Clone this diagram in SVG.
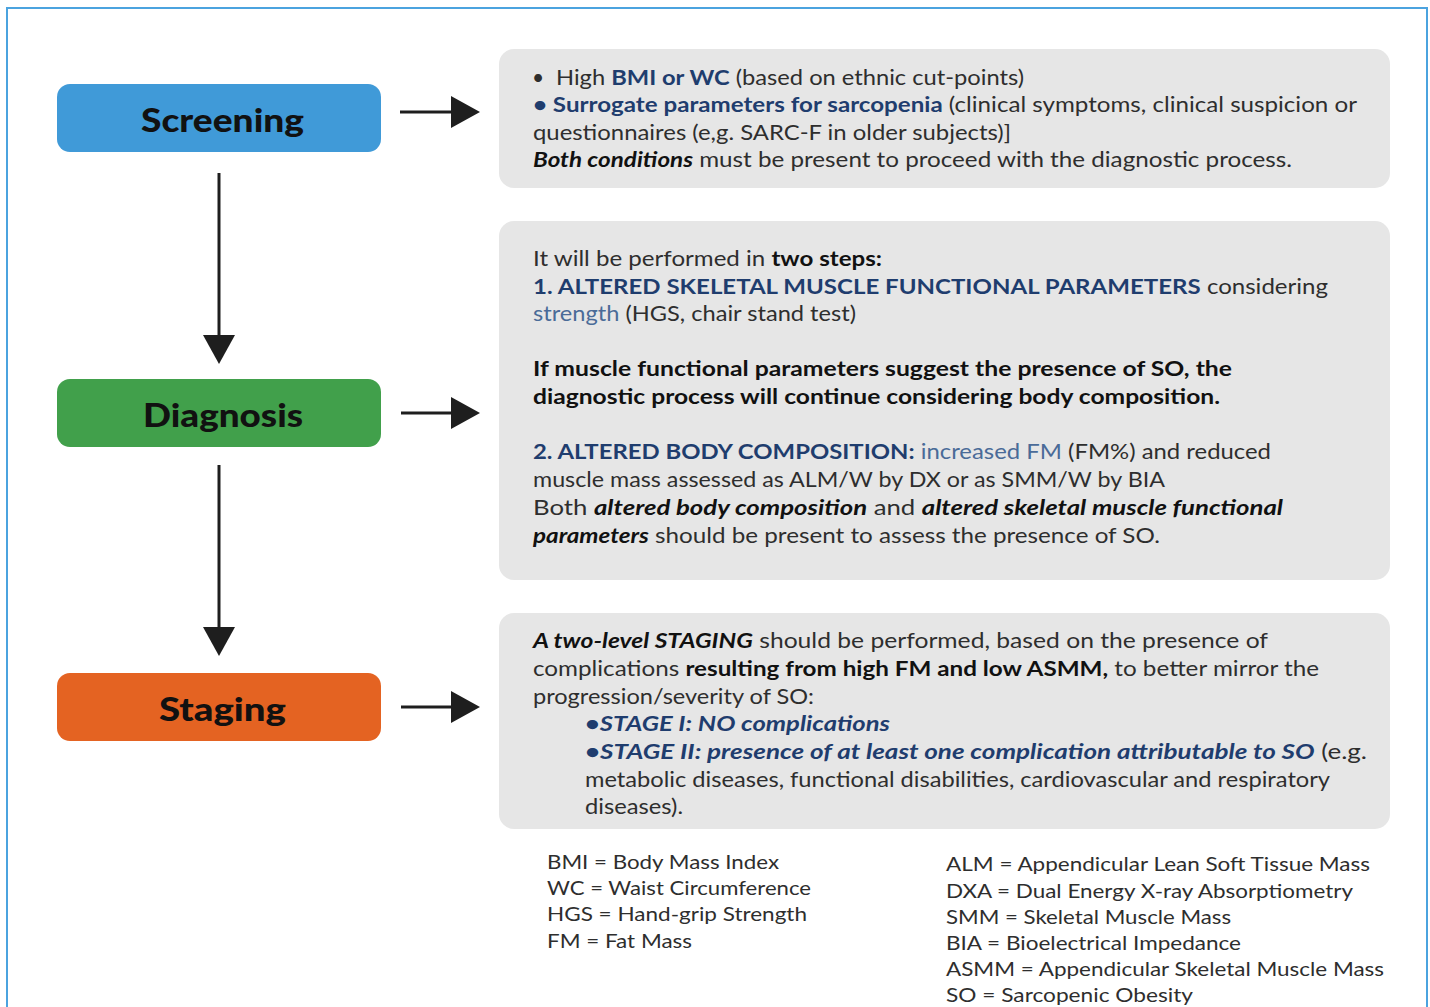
<svg xmlns="http://www.w3.org/2000/svg" width="1430" height="1007" viewBox="0 0 1430 1007">
<defs>
<style>
.frame{fill:#ffffff;stroke:#4ba3df;stroke-width:2}
.panel{fill:#e6e6e6}
.title{font-family:Lato,"Open Sans","Liberation Sans",sans-serif;font-weight:900;font-size:33px;fill:#111111;text-anchor:start}
.t{font-family:Lato,"Open Sans","Liberation Sans",sans-serif;font-size:21px;fill:#2e2e2e}
.lg{font-family:Lato,"Open Sans","Liberation Sans",sans-serif;font-size:20px;fill:#2e2e2e}
.b{font-weight:bold;fill:#111111}
.bi{font-weight:bold;font-style:italic;fill:#111111}
.db{font-weight:bold;fill:#1f3d6e}
.dbi{font-weight:bold;font-style:italic;fill:#1f3d6e}
.lb{fill:#4a6b98}
.conn{stroke:#1e1e1e;stroke-width:3;fill:none;marker-end:url(#ah)}
</style>
<marker id="ah" viewBox="0 0 29 32" markerWidth="29" markerHeight="32" refX="0" refY="16" orient="auto" markerUnits="userSpaceOnUse">
<path d="M0,0 L29,16 L0,32 Z" fill="#1e1e1e"/>
</marker>
</defs>
<rect class="frame" x="7" y="8" width="1420" height="1010"/>

<g id="connectors">
<line class="conn" x1="219" y1="173" x2="219" y2="335"/>
<line class="conn" x1="219" y1="465" x2="219" y2="627"/>
<line class="conn" x1="400" y1="112" x2="451" y2="112"/>
<line class="conn" x1="401" y1="413" x2="451" y2="413"/>
<line class="conn" x1="401" y1="707" x2="451" y2="707"/>
</g>

<g id="screening">
<rect x="57" y="84" width="324" height="68" rx="13" fill="#409ad8"/>
<text class="title" x="141" y="132" textLength="163" lengthAdjust="spacingAndGlyphs">Screening</text>
</g>
<g id="diagnosis">
<rect x="57" y="379" width="324" height="68" rx="13" fill="#41a04b"/>
<text class="title" x="143" y="427" textLength="160" lengthAdjust="spacingAndGlyphs">Diagnosis</text>
</g>
<g id="staging">
<rect x="57" y="673" width="324" height="68" rx="13" fill="#e46322"/>
<text class="title" x="159" y="721" textLength="127" lengthAdjust="spacingAndGlyphs">Staging</text>
</g>

<g id="screening-detail">
<rect class="panel" x="499" y="49" width="891" height="139" rx="15"/>
<text class="t" x="532" y="85" fill="#111">•</text>
<text class="t" x="556" y="85" textLength="468" lengthAdjust="spacingAndGlyphs">High <tspan class="db">BMI or WC</tspan> (based on ethnic cut-points)</text>
<text class="t" x="533" y="112" textLength="824" lengthAdjust="spacingAndGlyphs"><tspan class="db">• Surrogate parameters for sarcopenia</tspan> (clinical symptoms, clinical suspicion or</text>
<text class="t" x="533" y="140" textLength="478" lengthAdjust="spacingAndGlyphs">questionnaires (e,g. SARC-F in older subjects)]</text>
<text class="t" x="533" y="167" textLength="759" lengthAdjust="spacingAndGlyphs"><tspan class="bi">Both conditions</tspan> must be present to proceed with the diagnostic process.</text>
</g>

<g id="diagnosis-detail">
<rect class="panel" x="499" y="221" width="891" height="359" rx="15"/>
<text class="t" x="533" y="266" textLength="349" lengthAdjust="spacingAndGlyphs">It will be performed in <tspan class="b">two steps:</tspan></text>
<text class="t" x="533" y="294" textLength="795" lengthAdjust="spacingAndGlyphs"><tspan class="db">1. ALTERED SKELETAL MUSCLE FUNCTIONAL PARAMETERS</tspan> considering</text>
<text class="t" x="533" y="321" textLength="323" lengthAdjust="spacingAndGlyphs"><tspan class="lb">strength</tspan> (HGS, chair stand test)</text>
<text class="t b" x="533" y="376" textLength="699" lengthAdjust="spacingAndGlyphs">If muscle functional parameters suggest the presence of SO, the</text>
<text class="t b" x="533" y="404" textLength="687" lengthAdjust="spacingAndGlyphs">diagnostic process will continue considering body composition.</text>
<text class="t" x="533" y="459" textLength="738" lengthAdjust="spacingAndGlyphs"><tspan class="db">2. ALTERED BODY COMPOSITION:</tspan> <tspan class="lb">increased FM</tspan> (FM%) and reduced</text>
<text class="t" x="533" y="487" textLength="632" lengthAdjust="spacingAndGlyphs">muscle mass assessed as ALM/W by DX or as SMM/W by BIA</text>
<text class="t" x="533" y="515" textLength="750" lengthAdjust="spacingAndGlyphs">Both <tspan class="bi">altered body composition</tspan> and <tspan class="bi">altered skeletal muscle functional</tspan></text>
<text class="t" x="533" y="543" textLength="627" lengthAdjust="spacingAndGlyphs"><tspan class="bi">parameters</tspan> should be present to assess the presence of SO.</text>
</g>

<g id="staging-detail">
<rect class="panel" x="499" y="613" width="891" height="216" rx="15"/>
<text class="t" x="533" y="648" textLength="735" lengthAdjust="spacingAndGlyphs"><tspan class="bi">A two-level STAGING</tspan> should be performed, based on the presence of</text>
<text class="t" x="533" y="676" textLength="786" lengthAdjust="spacingAndGlyphs">complications <tspan class="b">resulting from high FM and low ASMM,</tspan> to better mirror the</text>
<text class="t" x="533" y="704" textLength="281" lengthAdjust="spacingAndGlyphs">progression/severity of SO:</text>
<text class="t dbi" x="585" y="731" textLength="305" lengthAdjust="spacingAndGlyphs">•STAGE I: NO complications</text>
<text class="t" x="585" y="759" textLength="782" lengthAdjust="spacingAndGlyphs"><tspan class="dbi">•STAGE II: presence of at least one complication attributable to SO</tspan> (e.g.</text>
<text class="t" x="585" y="787" textLength="745" lengthAdjust="spacingAndGlyphs">metabolic diseases, functional disabilities, cardiovascular and respiratory</text>
<text class="t" x="585" y="814" textLength="98" lengthAdjust="spacingAndGlyphs">diseases).</text>
</g>

<g id="legend">
<text class="lg" x="547" y="869" textLength="232" lengthAdjust="spacingAndGlyphs">BMI = Body Mass Index</text>
<text class="lg" x="547" y="895" textLength="264" lengthAdjust="spacingAndGlyphs">WC = Waist Circumference</text>
<text class="lg" x="547" y="921" textLength="260" lengthAdjust="spacingAndGlyphs">HGS = Hand-grip Strength</text>
<text class="lg" x="547" y="948" textLength="145" lengthAdjust="spacingAndGlyphs">FM = Fat Mass</text>
<text class="lg" x="946" y="871" textLength="424" lengthAdjust="spacingAndGlyphs">ALM = Appendicular Lean Soft Tissue Mass</text>
<text class="lg" x="946" y="898" textLength="407" lengthAdjust="spacingAndGlyphs">DXA = Dual Energy X-ray Absorptiometry</text>
<text class="lg" x="946" y="924" textLength="285" lengthAdjust="spacingAndGlyphs">SMM = Skeletal Muscle Mass</text>
<text class="lg" x="946" y="950" textLength="295" lengthAdjust="spacingAndGlyphs">BIA = Bioelectrical Impedance</text>
<text class="lg" x="946" y="976" textLength="438" lengthAdjust="spacingAndGlyphs">ASMM = Appendicular Skeletal Muscle Mass</text>
<text class="lg" x="946" y="1002" textLength="247" lengthAdjust="spacingAndGlyphs">SO = Sarcopenic Obesity</text>
</g>
</svg>
